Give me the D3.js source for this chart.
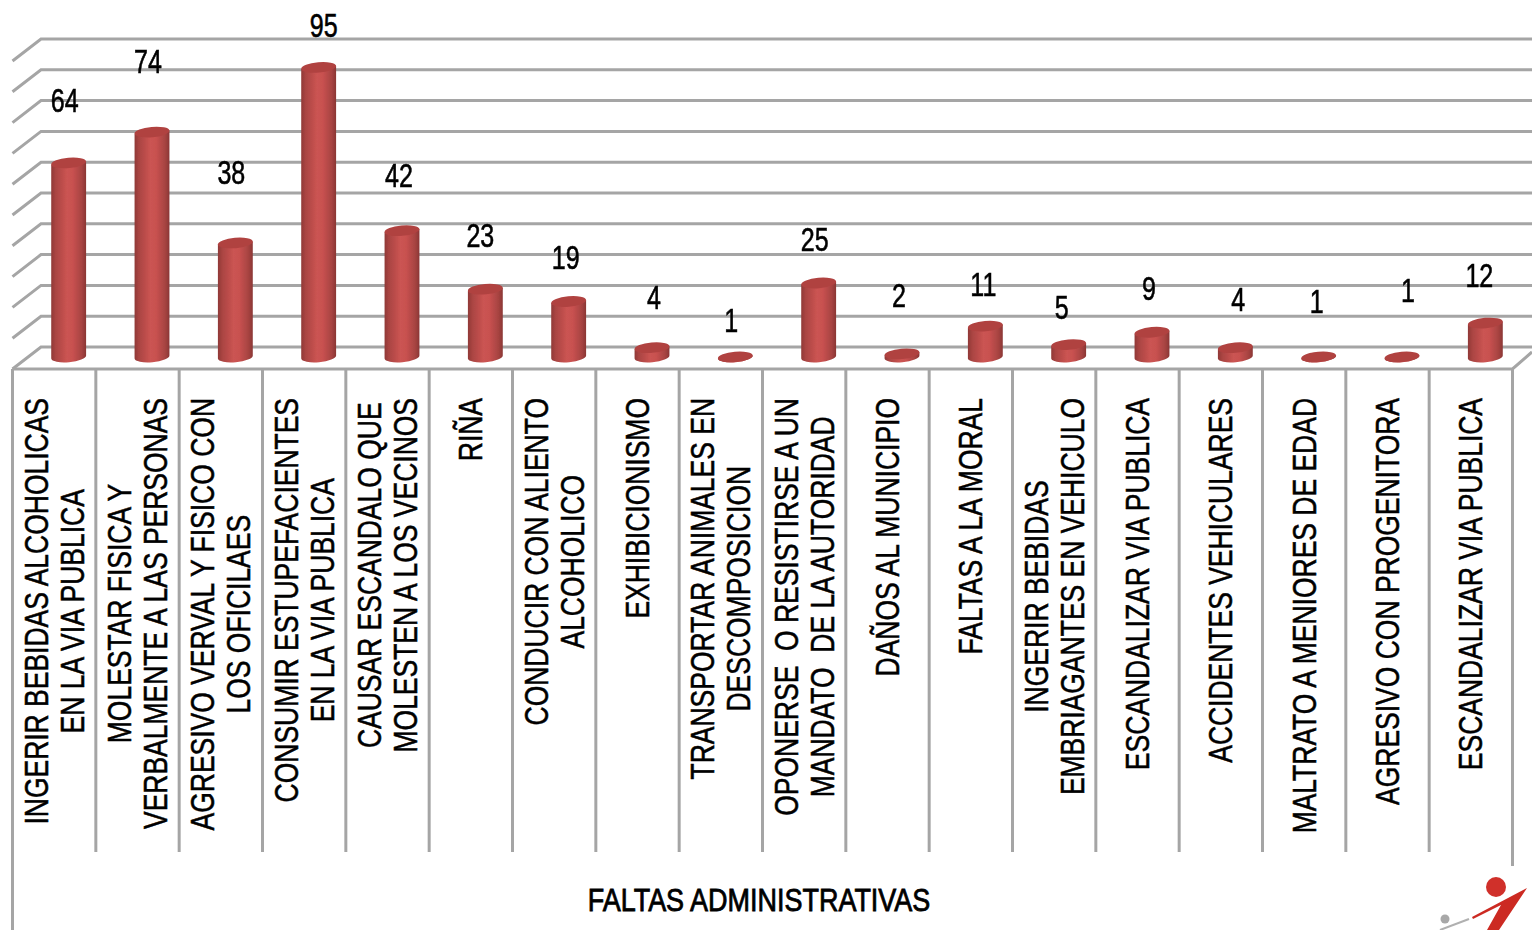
<!DOCTYPE html>
<html><head><meta charset="utf-8">
<script src="https://cdn.jsdelivr.net/npm/d3@7/dist/d3.min.js"></script>
<style>html,body{margin:0;padding:0;background:#fff;overflow:hidden}svg{display:block}text{font-family:"Liberation Sans",sans-serif;fill:#000}</style>
</head><body><svg id="c" width="1532" height="930"></svg>
<script>
const categories = [
 ["INGERIR BEBIDAS ALCOHOLICAS","EN LA VIA PUBLICA"],
 ["MOLESTAR FISICA Y","VERBALMENTE A LAS PERSONAS"],
 ["AGRESIVO VERVAL Y FISICO CON","LOS OFICILAES"],
 ["CONSUMIR ESTUPEFACIENTES","EN LA VIA PUBLICA"],
 ["CAUSAR ESCANDALO QUE","MOLESTEN A LOS VECINOS"],
 ["RIÑA"],
 ["CONDUCIR CON ALIENTO","ALCOHOLICO"],
 ["EXHIBICIONISMO"],
 ["TRANSPORTAR ANIMALES EN","DESCOMPOSICION"],
 ["OPONERSE  O RESISTIRSE A UN","MANDATO  DE LA AUTORIDAD"],
 ["DAÑOS AL MUNICIPIO"],
 ["FALTAS A LA MORAL"],
 ["INGERIR BEBIDAS","EMBRIAGANTES EN VEHICULO"],
 ["ESCANDALIZAR VIA PUBLICA"],
 ["ACCIDENTES VEHICULARES"],
 ["MALTRATO A MENIORES DE EDAD"],
 ["AGRESIVO CON PROGENITORA"],
 ["ESCANDALIZAR VIA PUBLICA"]
];
const values = [64,74,38,95,42,23,19,4,1,25,2,11,5,9,4,1,1,12];
const axisTitle = "FALTAS ADMINISTRATIVAS";
const gridTicks = [0,10,20,30,40,50,60,70,80,90,100];
// hand-placed label nudges from the automatic spot above each bar (layout only)
const labelNudgeX = [-4,-4,-4,5,-3,-5,-3,2,-4,-4,-3,-2,-7,-3,3,-2,6,-6];
const labelCenterY = [100,61,172,25,175,235,257,297,320,239,295,284,307,288,299,301,290,275];

const svg = d3.select("#c");
const x = d3.scaleBand().domain(d3.range(values.length)).range([12.5,1512.5]);
const yBack = d3.scaleLinear().domain([0,100]).range([347,39]);
const yBar = d3.scaleLinear().domain([0,100]).range([360,52]);
const GRID="#a5a5a5";
const depthY=22, barOff=14.5, rx=17.5, ry=5.2, tilt=-5;

const defs=svg.append("defs");
const g=defs.append("linearGradient").attr("id","cyl");
[[0,"#8f3836"],[.12,"#a94442"],[.45,"#cb5452"],[.62,"#c85150"],[.88,"#a64341"],[1,"#8a3634"]]
 .forEach(([o,c])=>g.append("stop").attr("offset",o).attr("stop-color",c));
const f=defs.append("filter").attr("id","soft").attr("x","-10%").attr("y","-10%").attr("width","120%").attr("height","120%");
f.append("feGaussianBlur").attr("stdDeviation",.6);

// walls
const grid=svg.append("g").attr("stroke",GRID).attr("stroke-width",3).attr("fill","none");
gridTicks.forEach(t=>{
  const yy=yBack(t);
  grid.append("path").attr("d",`M12.5,${yy+depthY} L41,${yy} H1532`);
});
// floor front + right edge
grid.append("path").attr("d","M12.5,369 H1512.5 L1532,352");
// axis ticks (category separators) via scale
d3.range(values.length+1).forEach(i=>{
  const px=i===values.length?1512.5:x(i);
  const y2=i===0?930:(i===values.length?866:852);
  grid.append("line").attr("x1",px).attr("x2",px).attr("y1",369).attr("y2",y2);
});

// bars
const bars=svg.append("g").attr("filter","url(#soft)");
values.forEach((v,i)=>{
  const cx=x(i)+x.bandwidth()/2+barOff, y1=yBar(v), y0=Math.max(y1,357);
  const dx=rx*Math.cos(tilt*Math.PI/180), dy=rx*Math.sin(-tilt*Math.PI/180);
  bars.append("path").attr("fill","url(#cyl)")
    .attr("d",`M${cx-dx},${y1+dy} L${cx-dx},${y0+dy} A${rx},${ry} ${tilt} 0 0 ${cx+dx},${y0-dy} L${cx+dx},${y1-dy} Z`);
  bars.append("ellipse").attr("cx",cx).attr("cy",y1).attr("rx",rx).attr("ry",ry)
    .attr("transform",`rotate(${tilt} ${cx} ${y1})`).attr("fill","#b04241");
});

// value labels
const vs=.76;
svg.append("g").selectAll("text").data(values).join("text")
  .attr("transform",(d,i)=>`translate(${x(i)+x.bandwidth()/2+barOff+labelNudgeX[i]},${labelCenterY[i]}) scale(${vs},1)`)
  .attr("dy","0.36em")
  .attr("text-anchor","middle").attr("font-size",33)
  .attr("stroke","#000").attr("stroke-width",.6)
  .text(d=>d);

// category labels
const lineStep=36, topY=398, fs=32.5, squeeze=.815;
const lab=svg.append("g");
categories.forEach((lines,i)=>{
  const cx=x(i)+x.bandwidth()/2;
  const G=lab.append("g").attr("transform",`translate(${cx},${topY}) rotate(-90) scale(${squeeze},1)`);
  const tmp=lines.map((t,j)=>G.append("text").style("white-space","pre")
    .attr("font-size",fs).attr("y",(j-(lines.length-1)/2)*lineStep+fs*.355).attr("text-anchor","middle")
    .attr("stroke","#000").attr("stroke-width",.55).text(t));
  const w=d3.max(tmp,t=>t.node().getComputedTextLength());
  tmp.forEach(t=>t.attr("x",-w/2));
});

// axis title
svg.append("text").attr("transform","translate(759,911) scale(.87,1)").attr("text-anchor","middle").attr("font-size",31)
  .attr("stroke","#000").attr("stroke-width",.8).text(axisTitle);

// small corner mark
const logo=svg.append("g");
logo.append("circle").attr("cx",1496).attr("cy",887).attr("r",10).attr("fill","#d0302a");
logo.append("path").attr("fill","#cc2a22").attr("d","M1527,888 L1472,917 L1473,919 L1501,905 L1487,930 L1499,930 Z");
logo.append("circle").attr("cx",1445).attr("cy",919).attr("r",4.5).attr("fill","#a8a8a8");
logo.append("path").attr("stroke","#b0b0b0").attr("stroke-width",2).attr("d","M1440,930 L1469,919");
</script></body></html>
